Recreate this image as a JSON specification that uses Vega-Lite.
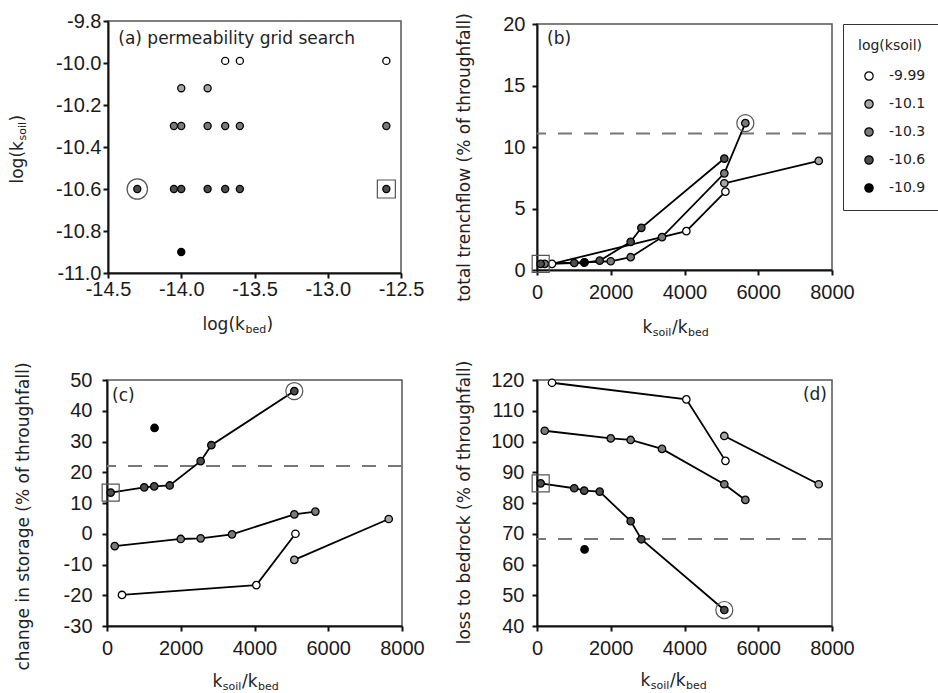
{
  "$schema": "https://vega.github.io/schema/vega-lite/v6.json",
  "background": "white",
  "padding": {"left": 7, "top": 10, "right": 0, "bottom": 0},
  "datasets": {
    "runs": [
      {"run": 1, "ksoil": "-9.99", "lsoil": -9.99, "kbed": -12.6, "ratio": 407, "trench": 0.5, "storage": -19.9, "bedrock": 119.1},
      {"run": 2, "ksoil": "-9.99", "lsoil": -9.99, "kbed": -13.6, "ratio": 4050, "trench": 3.16, "storage": -16.7, "bedrock": 113.7},
      {"run": 3, "ksoil": "-9.99", "lsoil": -9.99, "kbed": -13.7, "ratio": 5110, "trench": 6.37, "storage": 0.0, "bedrock": 93.7},
      {"run": 4, "ksoil": "-10.1", "lsoil": -10.12, "kbed": -13.82, "ratio": 5080, "trench": 7.05, "storage": -8.5, "bedrock": 101.8},
      {"run": 5, "ksoil": "-10.1", "lsoil": -10.12, "kbed": -14.0, "ratio": 7640, "trench": 8.87, "storage": 4.8, "bedrock": 86.1},
      {"run": 6, "ksoil": "-10.3", "lsoil": -10.3, "kbed": -12.6, "ratio": 210, "trench": 0.5, "storage": -4.0, "bedrock": 103.5},
      {"run": 7, "ksoil": "-10.3", "lsoil": -10.3, "kbed": -13.6, "ratio": 2000, "trench": 0.71, "storage": -1.7, "bedrock": 101.0},
      {"run": 8, "ksoil": "-10.3", "lsoil": -10.3, "kbed": -13.7, "ratio": 2540, "trench": 1.04, "storage": -1.5, "bedrock": 100.5},
      {"run": 9, "ksoil": "-10.3", "lsoil": -10.3, "kbed": -13.82, "ratio": 3390, "trench": 2.67, "storage": -0.2, "bedrock": 97.6},
      {"run": 10, "ksoil": "-10.3", "lsoil": -10.3, "kbed": -14.0, "ratio": 5080, "trench": 7.86, "storage": 6.3, "bedrock": 86.1},
      {"run": 11, "ksoil": "-10.3", "lsoil": -10.3, "kbed": -14.05, "ratio": 5650, "trench": 11.94, "storage": 7.2, "bedrock": 81.0, "flag_b": "circle"},
      {"run": 12, "ksoil": "-10.6", "lsoil": -10.6, "kbed": -12.6, "ratio": 100, "trench": 0.5, "storage": 13.4, "bedrock": 86.4, "flag": "square", "flag_b": "square"},
      {"run": 13, "ksoil": "-10.6", "lsoil": -10.6, "kbed": -13.6, "ratio": 1010, "trench": 0.57, "storage": 15.1, "bedrock": 84.8},
      {"run": 14, "ksoil": "-10.6", "lsoil": -10.6, "kbed": -13.7, "ratio": 1280, "trench": 0.6, "storage": 15.4, "bedrock": 84.0},
      {"run": 15, "ksoil": "-10.6", "lsoil": -10.6, "kbed": -13.82, "ratio": 1700, "trench": 0.76, "storage": 15.7, "bedrock": 83.7},
      {"run": 16, "ksoil": "-10.6", "lsoil": -10.6, "kbed": -14.0, "ratio": 2540, "trench": 2.29, "storage": 23.6, "bedrock": 74.1},
      {"run": 17, "ksoil": "-10.6", "lsoil": -10.6, "kbed": -14.05, "ratio": 2830, "trench": 3.43, "storage": 28.8, "bedrock": 68.2},
      {"run": 18, "ksoil": "-10.6", "lsoil": -10.6, "kbed": -14.3, "ratio": 5080, "trench": 9.06, "storage": 46.4, "bedrock": 45.2, "flag": "circle"},
      {"run": 19, "ksoil": "-10.9", "lsoil": -10.9, "kbed": -14.0, "ratio": 1290, "trench": 0.63, "storage": 34.4, "bedrock": 64.9}
    ]
  },
  "data": {"name": "runs"},
  "config": {
    "view": {"stroke": "#555", "strokeWidth": 1.5},
    "axis": {
      "domainColor": "#111", "domainWidth": 2, "tickColor": "#111", "tickWidth": 2, "tickSize": 5,
      "labelFont": "Liberation Sans", "labelFontSize": 20, "labelColor": "#1a1a1a",
      "labelOverlap": false, "labelFlush": false,
      "titleFont": "DejaVu Sans", "titleFontSize": 17, "titleFontWeight": "normal", "titleColor": "#222",
      "grid": false
    },
    "legend": {
      "orient": "right", "offset": 11, "strokeColor": "#333", "padding": 15,
      "titleFont": "DejaVu Sans", "titleFontSize": 14, "titleFontWeight": "normal", "titleColor": "#222", "titlePadding": 16,
      "labelFont": "DejaVu Sans", "labelFontSize": 14, "labelColor": "#222", "labelOffset": 13,
      "symbolType": "circle", "symbolSize": 70, "symbolStrokeColor": "#000", "symbolStrokeWidth": 1.2,
      "symbolOffset": 4, "rowPadding": 14
    },
    "text": {"font": "DejaVu Sans", "fontSize": 17, "color": "#222"}
  },
  "columns": 2,
  "bounds": "flush",
  "center": true,
  "spacing": {"row": 107, "column": 135},
  "resolve": {"scale": {"fill": "independent"}, "legend": {"fill": "independent"}},
  "concat": [
    {
      "width": 293,
      "height": 252,
      "layer": [
        {
          "mark": {"type": "point", "shape": "circle", "filled": true, "opacity": 1, "size": 50, "stroke": "#000", "strokeWidth": 1.3},
          "encoding": {
            "x": {"field": "kbed", "type": "quantitative", "scale": {"domain": [-14.5, -12.5], "nice": false, "zero": false},
              "axis": {"orient": "bottom", "values": [-14.5, -14, -13.5, -13, -12.5], "format": ".1f", "labelExpr": "replace(datum.label, '−', '-')", "labelPadding": 1,
                "title": "log(k", "titleAlign": "left", "titleBaseline": "alphabetic", "titleX": 94, "titleY": 56}},
            "y": {"field": "lsoil", "type": "quantitative", "scale": {"domain": [-11, -9.8], "nice": false, "zero": false},
              "axis": {"orient": "left", "values": [-11, -10.8, -10.6, -10.4, -10.2, -10, -9.8], "format": ".1f", "labelExpr": "replace(datum.label, '−', '-')", "labelPadding": 2,
                "title": "log(k", "titleAngle": -90, "titleAlign": "left", "titleBaseline": "alphabetic", "titleX": -86, "titleY": 162}},
            "fill": {"field": "ksoil", "type": "nominal", "scale": {"domain": ["-9.99", "-10.1", "-10.3", "-10.6", "-10.9"], "range": ["#ffffff", "#a6a6a6", "#7a7a7a", "#4d4d4d", "#000000"]}, "legend": null}
          }
        },
        {
          "transform": [{"filter": "datum.flag == 'circle'"}],
          "mark": {"type": "point", "shape": "circle", "filled": false, "opacity": 1, "size": 415, "stroke": "#555", "strokeWidth": 1.2},
          "encoding": {
            "x": {"field": "kbed", "type": "quantitative",
              "axis": {"orient": "bottom", "domain": false, "ticks": false, "labels": false, "title": "bed", "titleFontSize": 11, "titleAlign": "left", "titleBaseline": "alphabetic", "titleX": 137, "titleY": 59.5}},
            "y": {"field": "lsoil", "type": "quantitative",
              "axis": {"orient": "left", "domain": false, "ticks": false, "labels": false, "title": "soil", "titleFontSize": 11, "titleAngle": -90, "titleAlign": "left", "titleBaseline": "alphabetic", "titleX": -82.5, "titleY": 119}}
          }
        },
        {
          "transform": [{"filter": "datum.flag == 'square'"}],
          "mark": {"type": "point", "shape": "square", "filled": false, "opacity": 1, "size": 324, "stroke": "#555", "strokeWidth": 1.2},
          "encoding": {
            "x": {"field": "kbed", "type": "quantitative",
              "axis": {"orient": "bottom", "domain": false, "ticks": false, "labels": false, "title": ")", "titleAlign": "left", "titleBaseline": "alphabetic", "titleX": 158, "titleY": 56}},
            "y": {"field": "lsoil", "type": "quantitative",
              "axis": {"orient": "left", "domain": false, "ticks": false, "labels": false, "title": ")", "titleAngle": -90, "titleAlign": "left", "titleBaseline": "alphabetic", "titleX": -86, "titleY": 100}}
          }
        },
        {
          "data": {"values": [{"label": "(a) permeability grid search"}]},
          "mark": {"type": "text", "align": "left", "baseline": "alphabetic"},
          "encoding": {
            "x": {"datum": -14.43, "type": "quantitative", "axis": null},
            "y": {"datum": -9.91, "type": "quantitative", "axis": null},
            "text": {"field": "label"}
          }
        }
      ],
      "resolve": {"axis": {"x": "independent", "y": "independent"}}
    },
    {
      "width": 295,
      "height": 246,
      "layer": [
        {
          "data": {"values": [{"observed": 11.1}]},
          "mark": {"type": "rule", "stroke": "#777", "strokeWidth": 2, "strokeDash": [14, 12]},
          "encoding": {"y": {"field": "observed", "type": "quantitative", "axis": null}}
        },
        {
          "mark": {"type": "line", "stroke": "#000", "strokeWidth": 1.8},
          "encoding": {
            "x": {"field": "ratio", "type": "quantitative",
              "axis": {"orient": "bottom", "domain": false, "ticks": false, "labels": false, "title": "soil", "titleFontSize": 11, "titleAlign": "left", "titleBaseline": "alphabetic", "titleX": 115.3, "titleY": 65.5}},
            "y": {"field": "trench", "type": "quantitative", "axis": null},
            "detail": {"field": "ksoil"}
          }
        },
        {
          "mark": {"type": "point", "shape": "circle", "filled": true, "opacity": 1, "size": 55, "stroke": "#000", "strokeWidth": 1.3},
          "encoding": {
            "x": {"field": "ratio", "type": "quantitative", "scale": {"domain": [0, 8000], "nice": false, "zero": false},
              "axis": {"orient": "bottom", "values": [0, 2000, 4000, 6000, 8000], "format": "d", "labelPadding": 7,
                "title": "k", "titleAlign": "left", "titleBaseline": "alphabetic", "titleX": 105, "titleY": 62}},
            "y": {"field": "trench", "type": "quantitative", "scale": {"domain": [0, 20], "nice": false, "zero": false},
              "axis": {"orient": "left", "values": [0, 5, 10, 15, 20], "format": "d", "labelPadding": 7,
                "title": "total trenchflow (% of throughfall)", "titleAngle": -90, "titleAlign": "center", "titleBaseline": "alphabetic", "titleX": -68, "titleY": 133}},
            "fill": {"field": "ksoil", "type": "nominal", "title": "log(ksoil)", "scale": {"domain": ["-9.99", "-10.1", "-10.3", "-10.6", "-10.9"], "range": ["#ffffff", "#a6a6a6", "#7a7a7a", "#4d4d4d", "#000000"]}}
          }
        },
        {
          "transform": [{"filter": "datum.flag_b != null"}],
          "mark": {"type": "point", "filled": false, "opacity": 1, "size": 290, "stroke": "#555", "strokeWidth": 1.2},
          "encoding": {
            "x": {"field": "ratio", "type": "quantitative",
              "axis": {"orient": "bottom", "domain": false, "ticks": false, "labels": false, "title": "/k", "titleAlign": "left", "titleBaseline": "alphabetic", "titleX": 134.5, "titleY": 62}},
            "y": {"field": "trench", "type": "quantitative", "axis": null},
            "shape": {"field": "flag_b", "type": "nominal", "scale": {"domain": ["circle", "square"], "range": ["circle", "square"]}, "legend": null}
          }
        },
        {
          "data": {"values": [{"label": "(b)"}]},
          "mark": {"type": "text", "align": "left", "baseline": "alphabetic"},
          "encoding": {
            "x": {"datum": 271, "type": "quantitative",
              "axis": {"orient": "bottom", "domain": false, "ticks": false, "labels": false, "title": "bed", "titleFontSize": 11, "titleAlign": "left", "titleBaseline": "alphabetic", "titleX": 150.5, "titleY": 65.5}},
            "y": {"datum": 18.4, "type": "quantitative", "axis": null},
            "text": {"field": "label"}
          }
        }
      ],
      "resolve": {"axis": {"x": "independent", "y": "independent"}}
    },
    {
      "width": 295,
      "height": 246,
      "layer": [
        {
          "data": {"values": [{"observed": 22}]},
          "mark": {"type": "rule", "stroke": "#777", "strokeWidth": 2, "strokeDash": [14, 12]},
          "encoding": {"y": {"field": "observed", "type": "quantitative", "axis": null}}
        },
        {
          "mark": {"type": "line", "stroke": "#000", "strokeWidth": 1.8},
          "encoding": {
            "x": {"field": "ratio", "type": "quantitative",
              "axis": {"orient": "bottom", "domain": false, "ticks": false, "labels": false, "title": "soil", "titleFontSize": 11, "titleAlign": "left", "titleBaseline": "alphabetic", "titleX": 115.3, "titleY": 63.5}},
            "y": {"field": "storage", "type": "quantitative", "axis": null},
            "detail": {"field": "ksoil"}
          }
        },
        {
          "mark": {"type": "point", "shape": "circle", "filled": true, "opacity": 1, "size": 55, "stroke": "#000", "strokeWidth": 1.3},
          "encoding": {
            "x": {"field": "ratio", "type": "quantitative", "scale": {"domain": [0, 8000], "nice": false, "zero": false},
              "axis": {"orient": "bottom", "values": [0, 2000, 4000, 6000, 8000], "format": "d", "labelPadding": 7,
                "title": "k", "titleAlign": "left", "titleBaseline": "alphabetic", "titleX": 105, "titleY": 60.5}},
            "y": {"field": "storage", "type": "quantitative", "scale": {"domain": [-30, 50], "nice": false, "zero": false},
              "axis": {"orient": "left", "values": [-30, -20, -10, 0, 10, 20, 30, 40, 50], "format": "d", "labelExpr": "replace(datum.label, '−', '-')", "labelPadding": 10,
                "title": "change in storage (% of throughfall)", "titleAngle": -90, "titleAlign": "center", "titleBaseline": "alphabetic", "titleX": -79, "titleY": 136}},
            "fill": {"field": "ksoil", "type": "nominal", "scale": {"domain": ["-9.99", "-10.1", "-10.3", "-10.6", "-10.9"], "range": ["#ffffff", "#a6a6a6", "#7a7a7a", "#4d4d4d", "#000000"]}, "legend": null}
          }
        },
        {
          "transform": [{"filter": "datum.flag != null"}],
          "mark": {"type": "point", "filled": false, "opacity": 1, "size": 290, "stroke": "#555", "strokeWidth": 1.2},
          "encoding": {
            "x": {"field": "ratio", "type": "quantitative",
              "axis": {"orient": "bottom", "domain": false, "ticks": false, "labels": false, "title": "/k", "titleAlign": "left", "titleBaseline": "alphabetic", "titleX": 134.5, "titleY": 60.5}},
            "y": {"field": "storage", "type": "quantitative", "axis": null},
            "shape": {"field": "flag", "type": "nominal", "scale": {"domain": ["circle", "square"], "range": ["circle", "square"]}, "legend": null}
          }
        },
        {
          "data": {"values": [{"label": "(c)"}]},
          "mark": {"type": "text", "align": "left", "baseline": "alphabetic"},
          "encoding": {
            "x": {"datum": 136, "type": "quantitative",
              "axis": {"orient": "bottom", "domain": false, "ticks": false, "labels": false, "title": "bed", "titleFontSize": 11, "titleAlign": "left", "titleBaseline": "alphabetic", "titleX": 150.5, "titleY": 63.5}},
            "y": {"datum": 43.1, "type": "quantitative", "axis": null},
            "text": {"field": "label"}
          }
        }
      ],
      "resolve": {"axis": {"x": "independent", "y": "independent"}}
    },
    {
      "width": 295,
      "height": 246,
      "layer": [
        {
          "data": {"values": [{"observed": 68.3}]},
          "mark": {"type": "rule", "stroke": "#777", "strokeWidth": 2, "strokeDash": [14, 12]},
          "encoding": {"y": {"field": "observed", "type": "quantitative", "axis": null}}
        },
        {
          "mark": {"type": "line", "stroke": "#000", "strokeWidth": 1.8},
          "encoding": {
            "x": {"field": "ratio", "type": "quantitative",
              "axis": {"orient": "bottom", "domain": false, "ticks": false, "labels": false, "title": "soil", "titleFontSize": 11, "titleAlign": "left", "titleBaseline": "alphabetic", "titleX": 113.3, "titleY": 62.5}},
            "y": {"field": "bedrock", "type": "quantitative", "axis": null},
            "detail": {"field": "ksoil"}
          }
        },
        {
          "mark": {"type": "point", "shape": "circle", "filled": true, "opacity": 1, "size": 55, "stroke": "#000", "strokeWidth": 1.3},
          "encoding": {
            "x": {"field": "ratio", "type": "quantitative", "scale": {"domain": [0, 8000], "nice": false, "zero": false},
              "axis": {"orient": "bottom", "values": [0, 2000, 4000, 6000, 8000], "format": "d", "labelPadding": 7,
                "title": "k", "titleAlign": "left", "titleBaseline": "alphabetic", "titleX": 103, "titleY": 59.5}},
            "y": {"field": "bedrock", "type": "quantitative", "scale": {"domain": [40, 120], "nice": false, "zero": false},
              "axis": {"orient": "left", "values": [40, 50, 60, 70, 80, 90, 100, 110, 120], "format": "d", "labelPadding": 8,
                "title": "loss to bedrock (% of throughfall)", "titleAngle": -90, "titleAlign": "center", "titleBaseline": "alphabetic", "titleX": -68, "titleY": 122}},
            "fill": {"field": "ksoil", "type": "nominal", "scale": {"domain": ["-9.99", "-10.1", "-10.3", "-10.6", "-10.9"], "range": ["#ffffff", "#a6a6a6", "#7a7a7a", "#4d4d4d", "#000000"]}, "legend": null}
          }
        },
        {
          "transform": [{"filter": "datum.flag != null"}],
          "mark": {"type": "point", "filled": false, "opacity": 1, "size": 290, "stroke": "#555", "strokeWidth": 1.2},
          "encoding": {
            "x": {"field": "ratio", "type": "quantitative",
              "axis": {"orient": "bottom", "domain": false, "ticks": false, "labels": false, "title": "/k", "titleAlign": "left", "titleBaseline": "alphabetic", "titleX": 132.5, "titleY": 59.5}},
            "y": {"field": "bedrock", "type": "quantitative", "axis": null},
            "shape": {"field": "flag", "type": "nominal", "scale": {"domain": ["circle", "square"], "range": ["circle", "square"]}, "legend": null}
          }
        },
        {
          "data": {"values": [{"label": "(d)"}]},
          "mark": {"type": "text", "align": "right", "baseline": "alphabetic"},
          "encoding": {
            "x": {"datum": 7864, "type": "quantitative",
              "axis": {"orient": "bottom", "domain": false, "ticks": false, "labels": false, "title": "bed", "titleFontSize": 11, "titleAlign": "left", "titleBaseline": "alphabetic", "titleX": 148.5, "titleY": 62.5}},
            "y": {"datum": 113.5, "type": "quantitative", "axis": null},
            "text": {"field": "label"}
          }
        }
      ],
      "resolve": {"axis": {"x": "independent", "y": "independent"}}
    }
  ]
}
